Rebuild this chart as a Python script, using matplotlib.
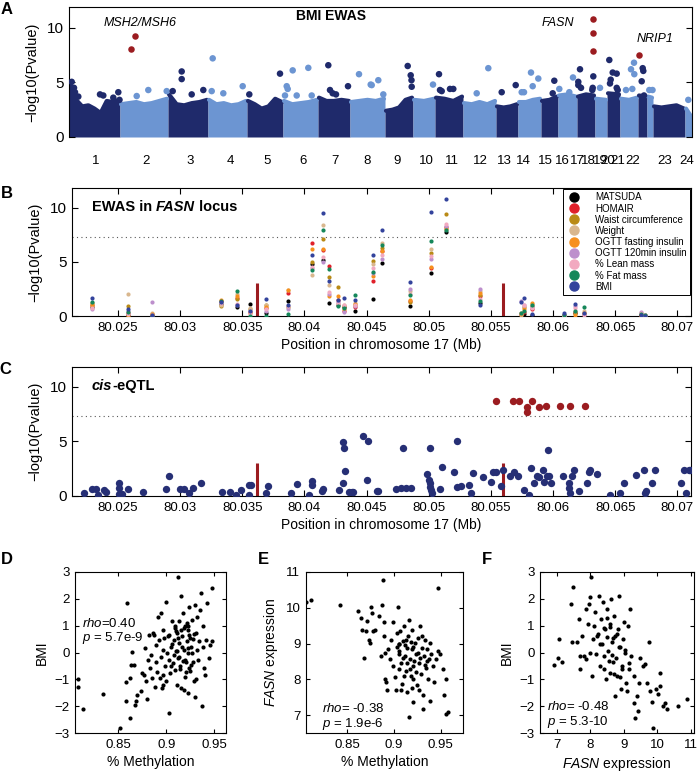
import numpy as np
import matplotlib
matplotlib.use('Agg')
import matplotlib.pyplot as plt
from matplotlib.lines import Line2D

plt.rcParams['font.family'] = ['Liberation Sans', 'DejaVu Sans']
plt.rcParams['mathtext.fontset'] = 'custom'
plt.rcParams['mathtext.rm'] = 'Liberation Sans'
plt.rcParams['mathtext.it'] = 'Liberation Sans:italic'
plt.rcParams['mathtext.bf'] = 'Liberation Sans:bold:italic'
plt.rcParams['axes.linewidth'] = 0.8

# ---------------- panel A : BMI EWAS manhattan ----------------
chrom_names = [str(i) for i in range(1, 25)]
chrom_width = [51, 48, 40, 39, 36, 35, 32, 35, 28, 22, 28, 33, 22, 23, 17, 19, 18, 12, 13, 18, 9, 6, 32, 7]
chrom_tick = [27, 77, 121, 161, 198, 234, 266, 298, 328, 357, 383, 411, 435, 454, 476, 493, 508, 519, 531, 539, 549, 564, 596, 618]
# top of the dense cloud of points along each chromosome
chrom_top = [
    [4.9, 3.4, 2.8, 2.9, 2.6, 2.2, 3.3, 3.2, 3.4],
    [3.0, 3.1, 3.2, 3.0, 3.1, 3.3, 3.5],
    [3.9, 3.0, 2.9, 3.1, 3.2, 3.4],
    [3.4, 3.0, 3.1, 2.9, 3.0, 3.3],
    [3.3, 3.0, 2.6, 2.8, 3.5, 3.2],
    [3.3, 3.0, 3.1, 3.2, 3.4],
    [3.6, 3.3, 3.3, 3.4, 3.3],
    [3.2, 3.3, 3.4, 3.3, 3.5],
    [2.4, 2.5, 2.7, 3.4, 3.6],
    [3.4, 3.3, 3.5],
    [3.6, 3.5, 3.3, 3.7],
    [3.1, 3.0, 3.2, 3.0, 3.3],
    [2.8, 2.7, 2.8, 3.0],
    [3.2, 3.2, 3.4, 3.5],
    [3.3, 3.4, 3.7],
    [3.8, 3.9, 3.7],
    [3.7, 3.9, 3.8],
    [3.5, 3.4],
    [4.0, 3.9],
    [3.5, 3.4, 3.6],
    [3.8, 3.7],
    [3.7, 3.6],
    [2.8, 2.7, 2.8, 2.9, 2.6],
    [2.6, 1.9],
]
# isolated points above the cloud (genome position, -log10 p)
a_pos = [2.7, 5, 6, 9.3, 31, 34.3, 44.3, 49.3, 50.5, 67.7, 79.3, 97.7,
         103.7, 112.7, 112.7, 122.7, 134.3, 142.7, 143.7, 154.3, 173.7,
         180.3, 211, 216, 217.7, 218.7, 223.7, 227.7, 239.3, 242.7,
         259.3, 261, 263.7, 267, 279, 290, 301.7, 309.3, 302.7,
         314.3, 338.7, 341.7, 342.7, 342.5, 364, 370, 371, 372.7, 381, 384.3,
         407.7, 419.3, 432.7, 446.7, 452.7, 455, 462, 463.7, 469.3,
         485.3, 483.7, 490.3, 500.3, 504, 511, 509.3, 509.3, 512,
         523.7, 523.3, 524.3, 531, 540.3, 541.7, 543.7, 541, 547.7, 547.7, 548.7,
         557, 563.3, 562, 565, 565.3, 573.7, 574.3, 572.7, 575, 580.3, 583.5, 619.3]
a_val = [5.05, 4.5, 4.1, 3.7, 3.9, 3.8, 3.6, 4.1, 3.4, 3.75, 4.3, 4.2,
         4.2, 6.0, 5.3, 3.9, 4.3, 4.2, 7.2, 4.0, 4.65,
         3.9, 5.8, 3.8, 4.65, 4.4, 6.1, 3.8, 6.33, 3.8,
         6.57, 4.3, 4.0, 3.9, 4.65, 5.75, 4.8, 5.2, 4.75,
         3.9, 6.5, 5.65, 4.6, 5.2, 4.8, 5.75, 4.3, 4.2, 4.4, 4.4,
         4.0, 6.3, 4.1, 4.75, 4.1, 4.1, 5.9, 4.65, 5.35,
         5.15, 4.0, 4.4, 4.1, 5.45, 6.2, 5.05, 4.75, 4.5,
         4.5, 4.3, 5.55, 4.5, 7.05, 5.25, 5.9, 4.9, 5.8, 4.5, 4.3,
         4.3, 4.4, 6.2, 6.8, 5.75, 6.3, 6.05, 5.1, 3.8, 4.3, 4.3, 3.4]
hit_pos = [62, 66, 524.3, 524.3, 524.3, 569.5]
hit_val = [8.05, 9.25, 10.8, 9.55, 7.9, 7.5]

# ---------------- panel B : EWAS in FASN locus ----------------
traits = ['MATSUDA', 'HOMAIR', 'Waist circumference', 'Weight', 'OGTT fasting insulin',
          'OGTT 120min insulin', '% Lean mass', '% Fat mass', 'BMI']
trait_colors = ['#000000', '#e0202a', '#b98a16', '#d9b78e', '#f6901e',
                '#bd8fcc', '#f2a9c0', '#15875a', '#33439c']
b_pos = [80.0229, 80.0258, 80.0277, 80.0333, 80.0346, 80.0356, 80.0369, 80.0387,
         80.0406, 80.0415, 80.0420, 80.0427, 80.0432, 80.0441, 80.0455, 80.0462,
         80.0485, 80.0502, 80.0514, 80.0541, 80.0574, 80.0577, 80.0583, 80.0609,
         80.0618, 80.0625, 80.0671, 80.0674]
b_matsuda = [0.8, 0.1, 0.1, 1.1, 0.8, 1.1, 0.3, 1.4, 4.8, 5.2, 1.2, 1.0, 0.8, 0.5, 1.6, 4.9, 0.9, 4.0, 7.7, 1.2, 0.0, 0.2, 0.1, 0.05, 0.3, 0.0, 0.1, 0.0]
b_homair = [1.0, 0.3, 0.05, 1.4, 1.7, 0.4, 0.7, 2.1, 6.7, 6.1, 4.6, 1.5, 0.5, 0.8, 3.2, 6.0, 1.4, 4.4, 8.2, 1.8, 0.2, 0.4, 0.6, 0.0, 0.4, 0.2, 0.1, 0.0]
b_waist = [1.2, 0.9, 0.2, 0.9, 1.6, 0.6, 1.0, 0.8, 5.0, 7.1, 3.6, 2.7, 0.9, 1.0, 5.1, 6.3, 1.3, 5.8, 9.4, 1.9, 0.3, 0.8, 0.9, 0.1, 0.3, 0.3, 0.2, 0.1]
b_weight = [0.9, 2.0, 0.3, 1.0, 2.0, 0.7, 1.0, 2.4, 3.8, 8.4, 2.9, 1.2, 1.0, 1.2, 4.8, 6.7, 2.3, 6.2, 8.1, 2.3, 0.1, 0.8, 1.1, 0.1, 0.5, 0.5, 0.3, 0.1]
b_ogtt0 = [1.0, 0.0, 0.15, 1.5, 1.8, 0.3, 0.8, 2.4, 6.2, 6.2, 1.8, 1.8, 0.6, 1.1, 3.7, 6.0, 1.5, 4.5, 8.0, 2.1, 0.2, 0.6, 1.2, 0.0, 0.1, 0.3, 0.0, 0.0]
b_ogtt120 = [0.6, 0.5, 1.25, 1.3, 1.0, 0.5, 0.5, 0.6, 4.4, 5.0, 2.0, 1.3, 0.4, 0.9, 4.0, 5.3, 2.5, 5.3, 8.3, 2.5, 1.4, 1.0, 0.8, 0.0, 0.9, 0.2, 0.4, 0.1]
b_lean = [0.7, 0.2, 0.1, 1.2, 1.1, 0.2, 0.6, 0.9, 4.5, 5.4, 2.2, 1.1, 1.0, 1.0, 4.4, 5.6, 2.0, 5.5, 8.5, 1.6, 0.3, 1.0, 0.7, 0.0, 0.7, 0.1, 0.3, 0.1]
b_fat = [1.3, 0.4, 0.0, 1.4, 2.3, 0.0, 0.0, 0.2, 4.2, 7.9, 4.3, 0.9, 0.7, 1.9, 4.1, 6.5, 1.9, 6.9, 7.9, 1.4, 0.3, 0.5, 1.0, 0.1, 0.5, 0.8, 0.2, 0.1]
b_bmi = [1.7, 0.6, 0.05, 1.3, 1.0, 0.5, 1.6, 1.0, 5.6, 9.5, 3.2, 1.5, 1.7, 1.5, 5.6, 7.9, 3.1, 9.6, 10.8, 1.0, 1.3, 1.7, 0.2, 0.3, 1.1, 0.3, 0.1, 0.0]
b_values = [b_matsuda, b_homair, b_waist, b_weight, b_ogtt0, b_ogtt120, b_lean, b_fat, b_bmi]

bar_pos = [80.0362, 80.0560]
bar_height = [3.0, 3.0]
gw_threshold = 7.3

# ---------------- panel C : cis-eQTL ----------------
c_pos = [80.0223, 80.0229, 80.0232, 80.0234, 80.0239, 80.0240, 80.0251, 80.0251, 80.0251, 80.0253,
         80.0258, 80.0270, 80.0289, 80.0291, 80.0300, 80.0303, 80.0307, 80.0310, 80.0317, 80.0334,
         80.0340, 80.0345, 80.0349, 80.0355, 80.0357, 80.0355, 80.0369, 80.0371, 80.0389, 80.0394,
         80.0404, 80.0406, 80.0406, 80.0414, 80.0415, 80.0428, 80.0431, 80.0433, 80.0436, 80.0438,
         80.0439, 80.0431, 80.0432, 80.0447, 80.0451, 80.0450, 80.0459, 80.0458, 80.0474, 80.0478,
         80.0479, 80.0482, 80.0486, 80.0499, 80.0500, 80.0501, 80.0501, 80.0502, 80.0503, 80.0501,
         80.0509, 80.0511, 80.0520, 80.0523, 80.0523, 80.0526, 80.0532, 80.0534, 80.0536, 80.0544,
         80.0550, 80.0552, 80.0554, 80.0558, 80.0560, 80.0565, 80.0569, 80.0572, 80.0577, 80.0581,
         80.0582, 80.0585, 80.0587, 80.0589, 80.0592, 80.0593, 80.0595, 80.0597, 80.0598, 80.0596,
         80.0608, 80.0613, 80.0613, 80.0614, 80.0615, 80.0617, 80.0621, 80.0627, 80.0629, 80.0630,
         80.0635, 80.0646, 80.0654, 80.0657, 80.0667, 80.0673, 80.0674, 80.0675, 80.0680, 80.0682,
         80.0703, 80.0705, 80.0707, 80.0709, 80.0710]
c_val = [0.3, 0.6, 0.6, 0.1, 0.55, 0.33, 1.2, 0.7, 0.2, 0.2,
         0.6, 0.4, 0.64, 1.8, 0.64, 0.6, 0.3, 0.75, 1.15, 0.33,
         0.4, 0.1, 0.55, 1.0, 1.0, 0.1, 0.3, 0.9, 0.3, 1.1,
         0.1, 1.4, 1.05, 0.5, 0.6, 0.55, 1.15, 2.27, 0.4, 0.33,
         0.33, 4.95, 4.35, 5.45, 5.0, 1.45, 0.45, 0.5, 0.6, 0.7,
         4.42, 0.7, 0.7, 2.0, 1.45, 1.15, 0.85, 0.55, 0.25, 4.42,
         0.6, 2.67, 2.15, 0.8, 5.0, 0.95, 1.05, 0.3, 2.1, 1.75,
         1.3, 2.15, 2.15, 0.95, 2.35, 1.85, 2.15, 1.85, 0.55, 0.1,
         2.6, 1.15, 1.85, 1.7, 2.35, 1.3, 1.85, 1.85, 1.15, 4.24,
         1.85, 1.2, 0.7, 0.25, 1.85, 2.35, 0.5, 1.15, 2.15, 2.35,
         2.0, 0.1, 0.25, 1.15, 1.9, 2.35, 0.3, 0.5, 1.15, 2.35,
         1.15, 2.4, 0.3, 2.4, 2.4]
c_sig_pos = [80.0554, 80.0568, 80.0573, 80.0579, 80.0579, 80.0583, 80.0589, 80.0594, 80.0606, 80.0614, 80.0626]
c_sig_val = [8.7, 8.7, 8.7, 8.1, 7.7, 8.7, 8.1, 8.2, 8.2, 8.2, 8.2]

# ---------------- panels D-F : correlations ----------------
d_meth = [0.808, 0.808, 0.813, 0.834, 0.852, 0.859, 0.858, 0.858, 0.862, 0.862, 0.864, 0.863, 0.866, 0.867,
          0.868, 0.869, 0.874, 0.875, 0.877, 0.878, 0.879, 0.880, 0.881, 0.882, 0.883, 0.884, 0.885, 0.886,
          0.888, 0.889, 0.889, 0.890, 0.891, 0.892, 0.893, 0.894, 0.894, 0.895, 0.896, 0.896, 0.897, 0.898,
          0.899, 0.900, 0.901, 0.900, 0.903, 0.903, 0.903, 0.904, 0.905, 0.906, 0.907, 0.908, 0.909, 0.909,
          0.910, 0.911, 0.911, 0.912, 0.912, 0.913, 0.913, 0.914, 0.915, 0.915, 0.916, 0.917, 0.918, 0.918,
          0.919, 0.919, 0.920, 0.921, 0.922, 0.922, 0.923, 0.924, 0.924, 0.925, 0.926, 0.927, 0.928, 0.929,
          0.930, 0.930, 0.931, 0.932, 0.932, 0.933, 0.934, 0.935, 0.936, 0.937, 0.938, 0.938, 0.939, 0.940,
          0.941, 0.942, 0.944, 0.945, 0.947, 0.947,
          0.906, 0.908, 0.910, 0.912, 0.914, 0.916, 0.918, 0.920, 0.922, 0.924, 0.926, 0.928, 0.905, 0.909,
          0.913, 0.917, 0.921, 0.925, 0.929, 0.915, 0.919, 0.923, 0.911, 0.927, 0.902, 0.897, 0.887, 0.931]
d_bmi = [-1.0, -1.28, -2.1, -1.55, -2.8, 1.84, -1.1, -1.82, -2.45, -0.95, 0.03, -0.46, -0.48, -1.95,
         -1.8, -1.6, -1.45, -0.77, -0.83, 0.16, -1.08, -1.74, -0.27, 0.66, -0.58, -0.09, -0.96, 0.72,
         -1.27, 0.29, -0.34, -0.71, 1.34, 0.47, -0.96, 1.47, -0.17, -1.33, 0.84, 0.1, -0.83, 0.53,
         -0.52, -1.08, -0.02, 1.9, -2.24, 0.66, -0.27, -0.77, 0.22, 1.16, -0.4, 0.47, -0.65, 0.91,
         0.04, -1.2, 0.72, -0.21, 2.81, 0.35, 1.16, -0.52, -1.33, 2.09, 0.6, 1.47, 0.1, -1.39,
         0.97, -0.27, -0.71, 0.41, 0.84, -1.52, -0.02, 1.71, -0.58, 0.53, 0.22, 1.22, -0.34, -1.08,
         1.78, -1.64, 0.72, 0.1, 1.34, -0.27, 0.41, 1.59, 2.21, -2.01, 0.97, 0.22, -0.58, -0.83,
         0.47, 1.84, -0.21, 0.29, 2.4, 0.41,
         0.3, -0.1, 0.8, 0.55, -0.6, 0.2, 0.9, -0.35, 0.15, 0.65, -0.45, 0.5, -0.5, 1.0,
         -0.15, -0.3, 1.1, -0.7, 0.7, 0.85, -0.9, 1.0, 0.05, 0.0, 0.6, -1.2, 0.65, -1.0]

e_meth = [0.806, 0.811, 0.842, 0.862, 0.865, 0.866, 0.868, 0.870, 0.871, 0.873, 0.874, 0.876, 0.877, 0.878,
          0.880, 0.884, 0.886, 0.887, 0.888, 0.889, 0.889, 0.890, 0.891, 0.892, 0.893, 0.894, 0.896, 0.897,
          0.899, 0.899, 0.901, 0.902, 0.903, 0.904, 0.905, 0.906, 0.906, 0.907, 0.908, 0.909, 0.910, 0.911,
          0.912, 0.913, 0.914, 0.914, 0.915, 0.916, 0.917, 0.918, 0.919, 0.919, 0.921, 0.921, 0.923, 0.916,
          0.924, 0.925, 0.926, 0.927, 0.928, 0.929, 0.930, 0.931, 0.931, 0.932, 0.933, 0.934, 0.935, 0.937,
          0.938, 0.939, 0.940, 0.942, 0.943, 0.947, 0.945, 0.947, 0.949, 0.953, 0.954, 0.956, 0.956, 0.958,
          0.939, 0.910, 0.912, 0.918, 0.922, 0.926, 0.906, 0.914, 0.920, 0.928, 0.905, 0.917, 0.924, 0.930,
          0.903, 0.935, 0.908, 0.921, 0.913, 0.927, 0.933, 0.911, 0.919]
e_fasn = [10.17, 10.22, 10.08, 9.9, 9.71, 9.39, 8.61, 9.35, 9.62, 9.09, 9.02, 10.03, 9.85, 9.35,
          9.37, 9.76, 8.65, 10.08, 10.77, 9.21, 9.59, 8.01, 8.75, 7.92, 7.69, 8.84, 8.56, 9.11,
          8.38, 9.59, 8.06, 7.69, 9.3, 10.03, 8.98, 8.29, 8.7, 9.35, 8.47, 7.87, 9.07, 9.48,
          8.65, 8.24, 8.88, 7.64, 9.21, 9.67, 8.56, 8.1, 8.84, 9.39, 7.37, 8.38, 9.02, 6.95,
          8.7, 7.83, 9.16, 8.47, 9.48, 8.15, 8.88, 7.18, 7.55, 8.65, 9.11, 8.33, 8.84, 8.01,
          8.56, 9.02, 8.7, 8.38, 7.92, 10.54, 8.56, 8.79, 8.7, 8.29, 7.55, 8.01, 7.04, 7.08,
          7.4, 8.6, 8.95, 9.05, 8.5, 8.75, 9.0, 8.45, 8.9, 8.6, 8.8, 8.3, 8.2, 9.2,
          8.9, 8.5, 7.7, 8.0, 9.1, 7.7, 8.4, 8.1, 7.75]

f_fasn = [6.93, 7.04, 7.07, 7.17, 7.43, 7.49, 7.46, 7.62, 7.66, 7.68, 7.70, 7.75, 7.80, 7.86, 7.88,
          7.92, 7.96, 7.99, 8.0, 8.03, 8.05, 8.08, 8.12, 8.15, 8.18, 8.22, 8.25, 8.28, 8.32, 8.35,
          8.38, 8.41, 8.45, 8.47, 8.49, 8.51, 8.54, 8.58, 8.60, 8.62, 8.64, 8.67, 8.71, 8.74, 8.75,
          8.78, 8.81, 8.84, 8.87, 8.88, 8.91, 8.94, 8.97, 9.0, 9.04, 9.07, 9.1, 9.13, 9.17, 9.2,
          9.23, 9.3, 9.32, 9.34, 9.41, 9.43, 9.46, 9.5, 9.57, 9.63, 9.7, 9.76, 9.8, 9.86, 9.89,
          9.96, 10.03, 10.07, 10.09, 10.16, 10.22, 10.29, 10.62, 10.88,
          8.3, 8.42, 8.55, 8.68, 8.72, 8.85, 8.95, 9.05, 8.2, 8.5, 8.65, 8.8, 8.9, 9.15, 8.4, 8.6]
f_bmi = [-0.47, -0.22, 0.5, -0.37, 1.81, 2.44, 0.38, 0.38, 1.25, -0.12, -0.62, 0.62, -0.12, 1.62, -0.25,
         1.06, 1.81, 2.06, 0.0, 2.81, -0.87, 0.5, 1.0, 1.5, -0.06, 0.69, 2.12, -0.5, 1.25, 0.31,
         1.87, -0.12, 0.87, -1.0, 1.62, 0.56, 0.06, 1.06, -0.75, 2.0, 0.38, -0.37, 1.37, -1.62, 0.62,
         -0.19, -0.87, 0.87, 2.12, 0.19, -1.37, -0.5, 0.5, 1.12, 0.0, -1.12, -1.44, 1.0, -0.62, 1.62,
         -0.12, -0.87, -1.87, -2.44, -1.62, -2.19, -1.12, -0.19, -0.5, -0.44, -1.12, 0.38, -1.44, -1.85, -2.81,
         -1.37, -1.56, -1.25, -0.75, -2.0, -1.87, -2.12, -2.0, -1.75,
         0.3, 0.9, -0.3, 0.55, -0.8, 0.2, -0.6, 0.1, 0.6, 1.3, -0.1, 0.7, -0.9, -0.4, -0.6, 0.95]

dark_blue = '#1f2a6b'
light_blue = '#6c95d2'
dark_red = '#9b1c20'
eqtl_blue = '#262f75'

fig = plt.figure(figsize=(7, 7.72), dpi=100)
W, H = 700.0, 772.0


def box(l, t, r, b):
    return [l / W, 1 - b / H, (r - l) / W, (b - t) / H]


def mixed_text(ax, x, y, parts, size):
    # parts: list of (text, fontstyle), all bold, placed one after the other
    t, style = parts[0]
    prev = ax.text(x, y, t, fontsize=size, fontweight='bold', fontstyle=style,
                   transform=ax.transAxes, va='bottom', ha='left')
    for t, style in parts[1:]:
        prev = ax.annotate(t, xy=(1, 0), xycoords=prev, va='bottom', ha='left',
                           fontsize=size, fontweight='bold', fontstyle=style)


# A
axA = fig.add_axes(box(69, 7, 692, 137))
starts = np.concatenate([[0], np.cumsum(chrom_width)[:-1]])
ends = np.cumsum(chrom_width)
for i, h in enumerate(chrom_top):
    col = dark_blue if i % 2 == 0 else light_blue
    xs = np.linspace(starts[i] + 1, ends[i] - 1, len(h))
    axA.fill_between(np.r_[starts[i], xs, ends[i]], 0, np.r_[h[0], h, h[-1]], color=col, lw=0)
    axA.plot(xs, h, color=col, lw=3, solid_capstyle='round', solid_joinstyle='round')
a_chrom = np.searchsorted(ends, np.array(a_pos), side='right')
a_cols = [dark_blue if c % 2 == 0 else light_blue for c in a_chrom]
axA.scatter(a_pos, a_val, s=22, c=a_cols, linewidths=0, zorder=3)
axA.scatter(hit_pos, hit_val, s=22, c=dark_red, linewidths=0, zorder=4)
axA.set_xlim(0, sum(chrom_width))
axA.set_ylim(0, 11.9)
axA.set_yticks([0, 5, 10])
axA.set_xticks(chrom_tick)
axA.set_xticklabels(chrom_names)
axA.tick_params(axis='y', direction='in', right=True, length=4, labelsize=11)
axA.tick_params(axis='x', length=0, pad=13, labelsize=9.5)
axA.spines['bottom'].set_visible(False)
axA.set_ylabel('\u2212log10(Pvalue)', fontsize=10.5, labelpad=6)
axA.text(0.42, 0.93, 'BMI EWAS', transform=axA.transAxes, fontsize=10, fontweight='bold', ha='center', va='center')
axA.text(71, 10.4, 'MSH2/MSH6', fontsize=9, fontstyle='italic', ha='center', va='center')
axA.text(489, 10.4, 'FASN', fontsize=9, fontstyle='italic', ha='center', va='center')
axA.text(586, 9.0, 'NRIP1', fontsize=9, fontstyle='italic', ha='center', va='center')

# B
axB = fig.add_axes(box(72, 188, 691, 316))
for vals, col in zip(b_values, trait_colors):
    axB.scatter(b_pos, vals, s=9, c=col, linewidths=0, zorder=3)
axB.vlines(bar_pos, 0, bar_height, color=dark_red, lw=2.2, zorder=2)
axB.axhline(gw_threshold, color='0.35', ls=(0, (1, 3)), lw=0.8, zorder=1)
handles = [Line2D([], [], ls='', marker='o', ms=6.5, mfc=c, mec=c) for c in trait_colors]
leg = axB.legend(handles, traits, loc='upper right', fontsize=7, fancybox=False, edgecolor='black',
                 borderaxespad=0.15, labelspacing=0.12, handlelength=1.6, handletextpad=1.4,
                 borderpad=0.3, framealpha=1)
leg.get_frame().set_linewidth(0.7)
mixed_text(axB, 0.032, 0.80, [('EWAS in ', 'normal'), ('FASN', 'italic'), (' locus', 'normal')], 10.5)
axB.set_xlabel('Position in chromosome 17 (Mb)', fontsize=10, labelpad=3)

# C
axC = fig.add_axes(box(72, 367, 691, 496))
axC.scatter(c_pos, c_val, s=28, c=eqtl_blue, linewidths=0, zorder=3)
axC.scatter(c_sig_pos, c_sig_val, s=28, c=dark_red, linewidths=0, zorder=3)
axC.vlines(bar_pos, 0, bar_height, color=dark_red, lw=2.2, zorder=2)
axC.axhline(gw_threshold, color='0.35', ls=(0, (1, 3)), lw=0.8, zorder=1)
mixed_text(axC, 0.032, 0.80, [('cis', 'italic'), ('-eQTL', 'normal')], 10.5)
axC.set_xlabel('Position in chromosome 17 (Mb)', fontsize=10, labelpad=3)

xt = [80.025, 80.03, 80.035, 80.04, 80.045, 80.05, 80.055, 80.06, 80.065, 80.07]
for ax in (axB, axC):
    ax.set_xlim(80.0213, 80.0711)
    ax.set_ylim(0, 11.8)
    ax.set_xticks(xt)
    ax.set_xticklabels([f'{v:g}' for v in xt])
    ax.set_yticks([0, 5, 10])
    ax.tick_params(axis='x', direction='in', top=True, length=4, labelsize=9.5, pad=4)
    ax.tick_params(axis='y', direction='in', right=True, length=4, labelsize=11)
    ax.set_ylabel('\u2212log10(Pvalue)', fontsize=10.5, labelpad=6)

# D, E, F
axD = fig.add_axes(box(75, 572, 226, 733))
axE = fig.add_axes(box(306, 572, 463, 733))
axF = fig.add_axes(box(540, 572, 694, 733))
axD.scatter(d_meth, d_bmi, s=9, c='black', linewidths=0)
axE.scatter(e_meth, e_fasn, s=9, c='black', linewidths=0)
axF.scatter(f_fasn, f_bmi, s=9, c='black', linewidths=0)
axD.set_xlim(0.805, 0.962)
axD.set_ylim(-3, 3)
axE.set_xlim(0.806, 0.974)
axE.set_ylim(6.5, 11)
axF.set_xlim(6.5, 11.1)
axF.set_ylim(-3, 3)
for ax in (axD, axE):
    ax.set_xticks([0.85, 0.9, 0.95])
    ax.set_xticklabels(['0.85', '0.9', '0.95'])
    ax.set_xlabel('% Methylation', fontsize=10, labelpad=3)
axD.set_yticks(range(-3, 4))
axF.set_yticks(range(-3, 4))
axE.set_yticks(range(7, 12))
axF.set_xticks(range(7, 12))
axD.set_ylabel('BMI', fontsize=10, labelpad=4)
axF.set_ylabel('BMI', fontsize=10, labelpad=4)
axE.set_ylabel(r'$\mathit{FASN}$ expression', fontsize=10, labelpad=4)
axF.set_xlabel(r'$\mathit{FASN}$ expression', fontsize=10, labelpad=3)
for ax in (axD, axE, axF):
    ax.tick_params(direction='in', top=True, right=True, length=3, labelsize=9.5, pad=4)

axD.text(0.045, 0.66, r'$\mathit{rho}$=0.40', transform=axD.transAxes, fontsize=9.5)
axD.text(0.045, 0.57, r'$\mathit{p}$ = 5.7e-9', transform=axD.transAxes, fontsize=9.5)
axE.text(0.10, 0.13, r'$\mathit{rho}$= -0.38', transform=axE.transAxes, fontsize=9.5)
axE.text(0.10, 0.04, r'$\mathit{p}$ = 1.9e-6', transform=axE.transAxes, fontsize=9.5)
axF.text(0.045, 0.14, r'$\mathit{rho}$= -0.48', transform=axF.transAxes, fontsize=9.5)
axF.text(0.045, 0.05, r'$\mathit{p}$ = 5.3-10', transform=axF.transAxes, fontsize=9.5)

# panel letters
for lab, x, y in [('A', 7, 10), ('B', 7, 193), ('C', 5, 370), ('D', 7, 560), ('E', 263, 560), ('F', 487, 560)]:
    fig.text(x / W, 1 - y / H, lab, fontsize=12, fontweight='bold', ha='center', va='center')

fig.savefig('out.png', dpi=100)
